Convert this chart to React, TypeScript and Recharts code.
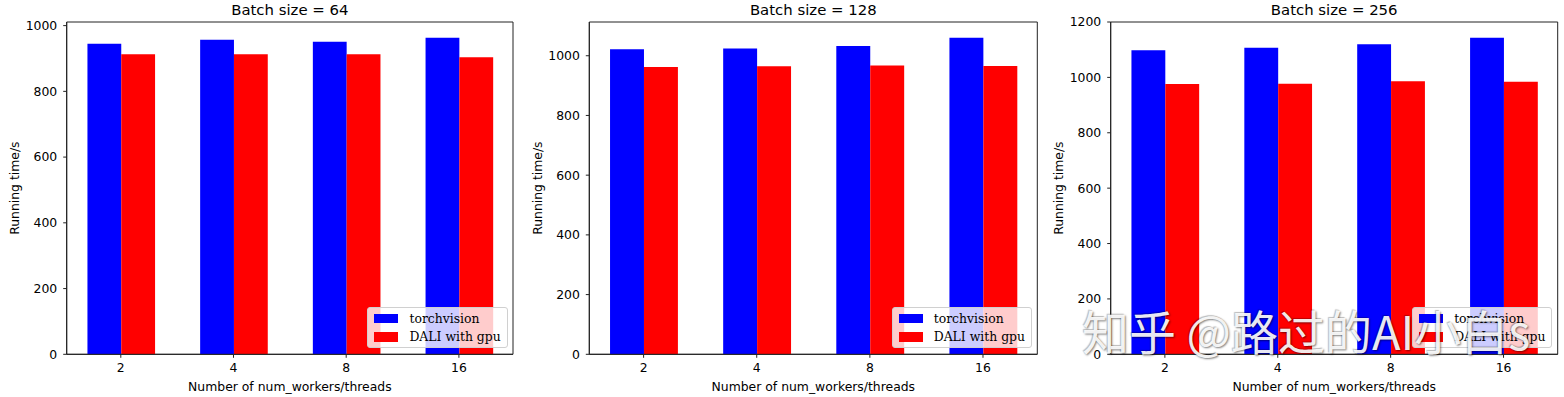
import React from 'react';
import { BarChart, Bar, XAxis, YAxis, Legend, Label, ReferenceArea } from 'recharts';

const categories = ['2', '4', '8', '16'];
const seriesNames = ['torchvision', 'DALI with gpu'];
const torch64 = [945, 957, 951, 963];
const dali64 = [913, 913, 913, 904];
const torch128 = [1022, 1024, 1033, 1060];
const dali128 = [962, 965, 967, 966];
const torch256 = [1098, 1107, 1120, 1143];
const dali256 = [976, 977, 986, 984];
const titles = ['Batch size = 64', 'Batch size = 128', 'Batch size = 256'];
const yTicksA = [0, 200, 400, 600, 800, 1000];
const yTicksB = [0, 200, 400, 600, 800, 1000, 1200];
const yMaxes = [1011, 1113, 1200];
const xLabel = 'Number of num_workers/threads';
const yLabel = 'Running time/s';
const watermark = '知乎 @路过的AI小白s';

const SANS = '"DejaVu Sans", sans-serif';
const SERIF = '"DejaVu Serif", serif';
const INK = '#222';
const FS = 12.4;
const X_DOMAIN: [number, number] = [-0.48, 3.48];

type PanelProps = {
  left: number;
  width: number;
  margin: { left: number; right: number };
  torch: number[];
  dali: number[];
  yMax: number;
  yTicks: number[];
  title: string;
};

const renderLegend = (props: any) => {
  const payload = [...(props.payload || [])].sort(
    (a: any, b: any) => seriesNames.indexOf(a.value) - seriesNames.indexOf(b.value)
  );
  return (
    <div
      style={{
        background: 'rgba(255,255,255,0.8)',
        border: '1px solid #d0d0d0',
        borderRadius: 3,
        padding: '1px 6px 1px 6px',
        fontFamily: SERIF,
        fontSize: FS,
        color: '#000',
        whiteSpace: 'nowrap',
      }}
    >
      {payload.map((p: any) => (
        <div key={p.value} style={{ display: 'flex', alignItems: 'center', height: 18.5 }}>
          <span style={{ display: 'inline-block', width: 24, height: 9.5, background: p.color, marginRight: 11 }} />
          <span>{p.value}</span>
        </div>
      ))}
    </div>
  );
};

function Panel({ left, width, margin, torch, dali, yMax, yTicks, title }: PanelProps) {
  const data = categories.map((c, i) => ({ x: i, torchvision: torch[i], dali: dali[i] }));
  const yAxisW = 60;
  const plotW = width - margin.left - yAxisW - margin.right;
  const barSize = (plotW * 0.3) / (X_DOMAIN[1] - X_DOMAIN[0]);
  const plotRight = width - margin.right;
  return (
    <div style={{ position: 'absolute', left, top: 0 }}>
      <BarChart
        width={width}
        height={397}
        data={data}
        barGap={0}
        margin={{ top: 22, bottom: 2.7, left: margin.left, right: margin.right }}
      >
        <XAxis
          dataKey="x"
          type="number"
          domain={X_DOMAIN}
          ticks={[0, 1, 2, 3]}
          tickFormatter={(v: number) => categories[v]}
          allowDataOverflow
          height={40}
          tickSize={3.5}
          tickMargin={5.5}
          axisLine={{ stroke: INK }}
          tickLine={{ stroke: INK }}
          tick={{ fill: '#000', fontSize: FS, fontFamily: SANS }}
        >
          <Label
            content={(p: any) => {
              const vb = p.viewBox;
              return (
                <text
                  x={vb.x + vb.width / 2}
                  y={vb.y + 31.7}
                  textAnchor="middle"
                  dominantBaseline="central"
                  fontSize={FS}
                  fontFamily={SANS}
                  fill="#000"
                >
                  {xLabel}
                </text>
              );
            }}
          />
        </XAxis>
        <YAxis
          type="number"
          domain={[0, yMax]}
          allowDataOverflow
          ticks={yTicks}
          width={yAxisW}
          tickSize={3.5}
          tickMargin={6}
          axisLine={{ stroke: INK }}
          tickLine={{ stroke: INK }}
          tick={{ fill: '#000', fontSize: FS, fontFamily: SANS }}
        >
          <Label
            content={(p: any) => {
              const vb = p.viewBox;
              const cx = vb.x + vb.width - 52;
              const cy = vb.y + vb.height / 2;
              return (
                <text
                  x={cx}
                  y={cy}
                  transform={`rotate(-90 ${cx} ${cy})`}
                  textAnchor="middle"
                  dominantBaseline="central"
                  fontSize={FS}
                  fontFamily={SANS}
                  fill="#000"
                >
                  {yLabel}
                </text>
              );
            }}
          />
        </YAxis>
        <Bar dataKey="torchvision" name={seriesNames[0]} fill="#0000ff" barSize={barSize} isAnimationActive={false} />
        <Bar dataKey="dali" name={seriesNames[1]} fill="#ff0000" barSize={barSize} isAnimationActive={false} />
        <ReferenceArea
          x1={X_DOMAIN[0]}
          x2={X_DOMAIN[1]}
          y1={0}
          y2={yMax}
          fill="none"
          fillOpacity={0}
          stroke={INK}
          strokeWidth={1}
          ifOverflow="visible"
        >
          <Label
            content={(p: any) => {
              const vb = p.viewBox;
              return (
                <text
                  x={vb.x + vb.width / 2}
                  y={vb.y - 12}
                  textAnchor="middle"
                  dominantBaseline="central"
                  fontSize={14.9}
                  fontFamily={SANS}
                  fill="#000"
                >
                  {title}
                </text>
              );
            }}
          />
        </ReferenceArea>
        <Legend
          layout="vertical"
          align="center"
          verticalAlign="middle"
          content={renderLegend}
          wrapperStyle={{ right: width - plotRight + 5.3, bottom: 397 - 348, width: 'auto', height: 'auto', left: 'auto', top: 'auto' }}
        />
      </BarChart>
    </div>
  );
}

export default function App() {
  return (
    <div style={{ position: 'absolute', left: 0, top: 0, width: 1564, height: 397, background: '#fff', overflow: 'hidden' }}>
      <Panel left={0} width={520} margin={{ left: 6.7, right: 7 }} torch={torch64} dali={dali64} yMax={yMaxes[0]} yTicks={yTicksA} title={titles[0]} />
      <Panel left={520} width={520} margin={{ left: 9.3, right: 2.7 }} torch={torch128} dali={dali128} yMax={yMaxes[1]} yTicks={yTicksA} title={titles[1]} />
      <Panel left={1040} width={524} margin={{ left: 10.7, right: 6.3 }} torch={torch256} dali={dali256} yMax={yMaxes[2]} yTicks={yTicksB} title={titles[2]} />
      <div
        style={{
          position: 'absolute',
          left: 1082,
          top: 300,
          fontFamily: '"Noto Sans CJK SC", sans-serif',
          fontSize: 47,
          lineHeight: '60px',
          color: 'rgba(255,255,255,0.92)',
          textShadow: '1px 1px 2px rgba(0,0,0,0.5), -1px -1px 1px rgba(0,0,0,0.25)',
          whiteSpace: 'pre',
          pointerEvents: 'none',
        }}
      >
        {watermark}
      </div>
    </div>
  );
}
